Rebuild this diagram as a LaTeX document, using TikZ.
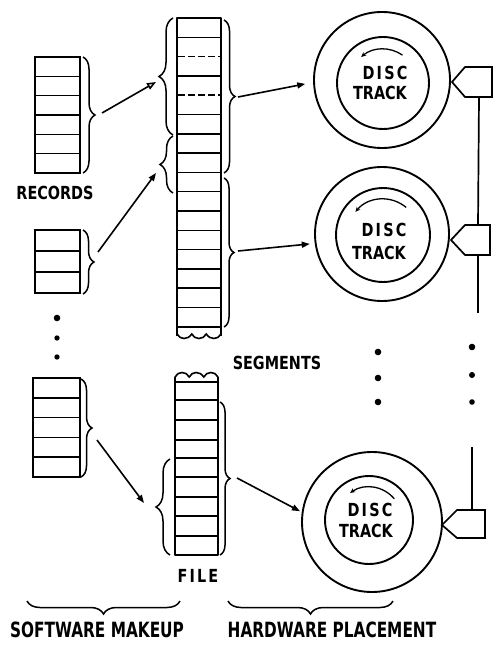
\documentclass[tikz,border=0pt]{standalone}
\usepackage{fontspec}
\setmainfont{DejaVu Sans}
\newfontfamily\lblfont[FakeStretch=0.8]{DejaVu Sans Bold}
\newfontfamily\spacedfont[FakeStretch=0.8,LetterSpace=12]{DejaVu Sans Bold}
\newfontfamily\bigfont[FakeStretch=0.73]{DejaVu Sans Bold}
\usetikzlibrary{decorations.pathreplacing,arrows.meta,calc}
\begin{document}
\begin{tikzpicture}[x=1pt,y=-1pt,
  recblock/.style={draw, rectangle, line width=2pt, inner sep=0pt},
  rowline/.style={line width=1.5pt},
  colside/.style={line width=2.3pt, line join=round},
  brc/.style={decorate, decoration={brace, amplitude=#1}, line width=1.5pt},
  conn/.style={line width=1.6pt, -{Triangle[length=8pt,width=6pt]}},
  openconn/.style={line width=1.6pt, -{Triangle[open,length=9pt,width=7pt]}},
  disco/.style={circle, draw, line width=1.9pt, inner sep=0pt},
  rotarr/.style={line width=1.3pt, -{Stealth[length=5pt,width=4.5pt]}},
  lbl/.style={inner sep=0pt, font=\lblfont\fontsize{18}{20}\selectfont},
  splbl/.style={inner sep=0pt, font=\spacedfont\fontsize{18}{20}\selectfont},
  biglbl/.style={inner sep=0pt, font=\bigfont\fontsize{21}{24}\selectfont},
  penta/.style={draw, line width=1.7pt, line join=miter},
  bus/.style={line width=1.7pt},
  dotmark/.style={fill=black}]
\useasboundingbox[fill=white] (0,0) rectangle (498,655);

% ---------- record blocks ----------
\node[recblock, minimum width=45pt, minimum height=116pt] (rec1) at (57.5,115) {};
\foreach \i in {1,...,5} \draw[rowline] (35,57+\i*19.33) -- (80,57+\i*19.33);
\node[recblock, minimum width=45pt, minimum height=63pt] (rec2) at (57.5,261.5) {};
\foreach \i in {1,2} \draw[rowline] (35,230+\i*21) -- (80,230+\i*21);
\node[recblock, minimum width=47pt, minimum height=99pt] (rec3) at (56.5,427.5) {};
\foreach \i in {1,...,4} \draw[rowline] (33,378+\i*19.8) -- (80,378+\i*19.8);

% braces right of record blocks
\draw[brc=12] (83,57) -- (83,173);
\draw[brc=11] (83,230) -- (83,294);
\draw[brc=11] (81,379) -- (81,477);

\node[lbl] (records) at (55,193) {RECORDS};

% dots between record blocks
\fill[dotmark] (57,318) circle (3.3pt);
\fill[dotmark] (57,338) circle (2.7pt);
\fill[dotmark] (57,357) circle (2.7pt);

% ---------- file column (upper part) ----------
\draw[colside] (177,336) -- (177,18) -- (221,18) -- (221,336);
\foreach \i in {1,3,5,6,...,16} \draw[rowline] (177,18+\i*19.3) -- (221,18+\i*19.3);
\foreach \i in {2,4} \draw[rowline, dash pattern=on 7pt off 3pt] (178,18+\i*19.3) -- (220,18+\i*19.3);
\draw[line width=1.6pt] (177,334) .. controls (180,340) and (188,340) .. (191.7,334)
   .. controls (195,340) and (203,340) .. (206.3,334)
   .. controls (210,340) and (218,340) .. (221,334);

% left braces of upper column
\draw[brc=14] (173,135) -- (173,18);
\draw[brc=13] (173,193) -- (173,136);
% right braces of upper column
\draw[brc=11] (224,20) -- (224,173);
\draw[brc=10] (224,178) -- (224,327);

% ---------- file column (lower part) ----------
\draw[colside] (175,377) -- (175,555) -- (218,555) -- (218,377);
\foreach \i in {382,400,420,440,458,477,497,516,536} \draw[rowline] (175,\i) -- (218,\i);
\draw[line width=1.6pt] (175,377) .. controls (178,371) and (186,371) .. (189.3,377)
   .. controls (192,371) and (200,371) .. (203.7,377)
   .. controls (207,371) and (215,371) .. (218,377);
\draw[brc=10] (220,402) -- (220,555);
\draw[brc=14] (170,555) -- (170,459);

\node[lbl] (segments) at (277,363) {SEGMENTS};
\node[splbl] (file) at (198,576) {FILE};

% ---------- discs ----------
\node[disco, minimum size=136pt] (disc1) at (382,80) {};
\node[disco, minimum size=92pt] (core1) at (383,83) {};
\node[splbl] (d1a) at (385,73) {DISC};
\node[lbl] (d1b) at (380,93) {TRACK};
\draw[rotarr] ($(core1.center)+(-55:34)$) arc[start angle=-55, end angle=-130, radius=34];

\node[disco, minimum size=134pt] (disc2) at (382,234) {};
\node[disco, minimum size=94pt] (core2) at (383,235) {};
\node[splbl] (d2a) at (384,230) {DISC};
\node[lbl] (d2b) at (379,253) {TRACK};
\draw[rotarr] ($(core2.center)+(-50:36)$) arc[start angle=-50, end angle=-140, radius=36];

\node[disco, minimum size=140pt] (disc3) at (372,522) {};
\node[disco, minimum size=88pt] (core3) at (369,520) {};
\node[splbl] (d3a) at (370,510) {DISC};
\node[lbl] (d3b) at (366,531) {TRACK};
\draw[rotarr] ($(core3.center)+(-40:33)$) arc[start angle=-40, end angle=-125, radius=33];

% ---------- heads and bus ----------
\draw[penta] (452,82) -- (465,67) -- (492,67) -- (492,97) -- (465,97) -- cycle;
\draw[penta] (451,240) -- (465,225) -- (490,225) -- (490,255) -- (465,255) -- cycle;
\draw[penta] (442,525) -- (457,510) -- (485,510) -- (485,538) -- (457,538) -- cycle;
\coordinate (h1b) at (479,97);
\coordinate (h2t) at (478,225);
\coordinate (h2b) at (478,255);
\coordinate (busend) at (478,313);
\coordinate (busstart) at (472,447);
\coordinate (h3t) at (472,510);
\draw[bus] (h1b) -- (h2t);
\draw[bus] (h2b) -- (busend);
\draw[bus] (busstart) -- (h3t);

\foreach \y in {352,378,402} \fill[dotmark] (378,\y) circle (3.3pt);
\fill[dotmark] (472,347) circle (3.3pt);
\fill[dotmark] (472,375) circle (3pt);
\fill[dotmark] (472,402) circle (2.8pt);

% ---------- arrows ----------
\coordinate (a1s) at (102,113);
\coordinate (a1e) at (156,82);
\coordinate (a2s) at (98,252);
\coordinate (a2e) at (156,173);
\coordinate (a3s) at (97,440);
\coordinate (a3e) at (144,503);
\coordinate (a4s) at (238,97);
\coordinate (a5s) at (238,251);
\coordinate (a6s) at (237,478);
\draw[openconn] (a1s) -- (a1e);
\draw[conn] (a2s) -- (a2e);
\draw[conn] (a3s) -- (a3e);
\draw[conn, shorten >=8pt] (a4s) -- (disc1.182);
\draw[conn, shorten >=5pt] (a5s) -- (disc2.188);
\draw[conn, shorten >=2pt] (a6s) -- (disc3.172);

% ---------- bottom braces ----------
\draw[brc=13] (180,601) -- (27,601);
\draw[brc=13] (393,601) -- (228,601);
\node[biglbl] (soft) at (97,630) {SOFTWARE MAKEUP};
\node[biglbl] (hard) at (332,630) {HARDWARE PLACEMENT};
\end{tikzpicture}
\end{document}
